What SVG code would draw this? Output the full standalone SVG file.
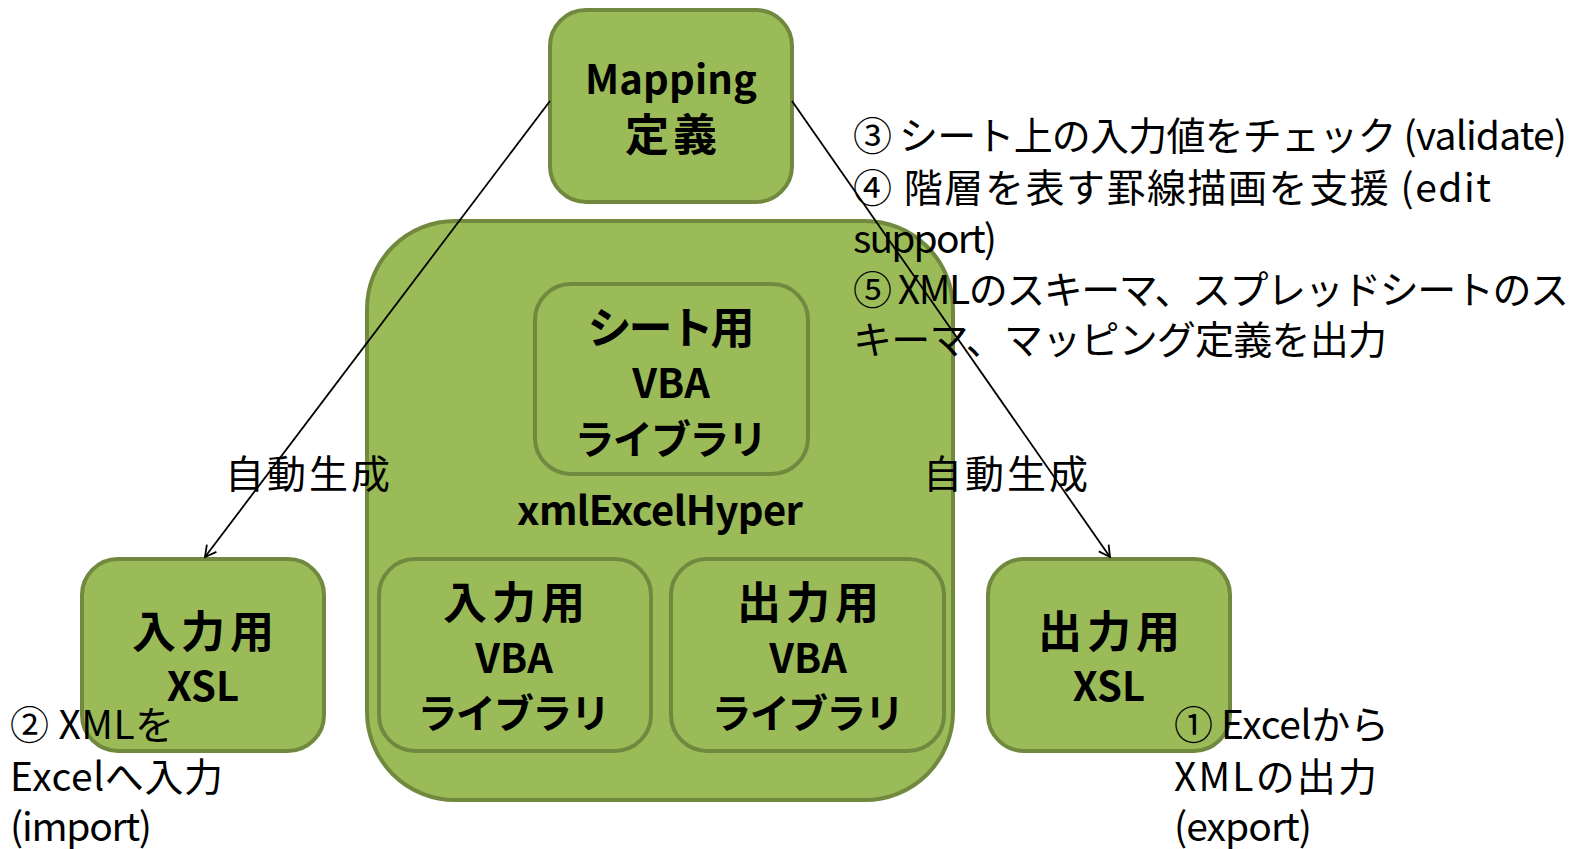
<svg xmlns="http://www.w3.org/2000/svg" width="1587" height="849" viewBox="0 0 1587 849">
<defs>
<style>
.box{fill:#9bbb59;stroke:#71893f;stroke-width:4}
.in{fill:#9bbb59;stroke:#71893f;stroke-width:4}
.b{font-family:"Noto Sans CJK JP","Noto Sans",sans-serif;font-weight:bold;font-size:40px;fill:#000;text-anchor:middle}
.k{font-size:44px}
.t{font-family:"Noto Sans CJK JP","Noto Sans",sans-serif;font-size:39px;fill:#000}
.c{stroke:#000;stroke-width:1.8;fill:none}
</style>
<marker id="ah" markerWidth="14" markerHeight="14" refX="12" refY="7" orient="auto" markerUnits="userSpaceOnUse">
<path d="M1,1 L12,7 L1,13" fill="none" stroke="#000" stroke-width="1.8"/>
</marker>
</defs>
<rect width="1587" height="849" fill="#fff"/>
<g id="mapping">
<rect class="box" x="550" y="10" width="242" height="192" rx="36"/>
<text class="b" x="671" y="94" textLength="172">Mapping</text>
<text class="b k" x="671" y="151" textLength="92">定義</text>
</g>
<g id="xmlExcelHyper">
<rect class="box" x="367" y="221" width="586" height="579" rx="88"/>
<text class="b" x="660" y="525" textLength="286">xmlExcelHyper</text>
</g>
<g id="sheetVBA">
<rect class="in" x="535" y="284" width="273" height="190" rx="36"/>
<text class="b k" x="671" y="344" textLength="167">シート用</text>
<text class="b" x="671" y="398">VBA</text>
<text class="b" x="671" y="454" textLength="193">ライブラリ</text>
</g>
<g id="inputVBA">
<rect class="in" x="379" y="559" width="272" height="192" rx="36"/>
<text class="b k" x="514" y="619" textLength="142">入力用</text>
<text class="b" x="514" y="673">VBA</text>
<text class="b" x="514" y="728" textLength="193">ライブラリ</text>
</g>
<g id="outputVBA">
<rect class="in" x="671" y="559" width="273" height="192" rx="36"/>
<text class="b k" x="808" y="619" textLength="142">出力用</text>
<text class="b" x="808" y="673">VBA</text>
<text class="b" x="808" y="728" textLength="193">ライブラリ</text>
</g>
<g id="inputXSL">
<rect class="box" x="82" y="559" width="242" height="192" rx="36"/>
<text class="b k" x="203" y="648" textLength="142">入力用</text>
<text class="b" x="203" y="701">XSL</text>
</g>
<g id="outputXSL">
<rect class="box" x="988" y="559" width="242" height="192" rx="36"/>
<text class="b k" x="1109" y="648" textLength="142">出力用</text>
<text class="b" x="1109" y="701">XSL</text>
</g>
<g id="connectors">
<line class="c" x1="550" y1="101" x2="205" y2="557" marker-end="url(#ah)"/>
<line class="c" x1="792" y1="101" x2="1110" y2="557" marker-end="url(#ah)"/>
</g>
<g id="labels">
<text class="t" x="225" y="488" textLength="165">自動生成</text>
<text class="t" x="923" y="488" textLength="165">自動生成</text>
<text class="t" x="853" y="150" textLength="714">③ シート上の入力値をチェック (validate)</text>
<text class="t" x="853" y="202" textLength="638">④ 階層を表す罫線描画を支援 (edit</text>
<text class="t" x="853" y="253" textLength="144">support)</text>
<text class="t" x="853" y="304" textLength="716">⑤ XMLのスキーマ、スプレッドシートのス</text>
<text class="t" x="853" y="354" textLength="534">キーマ、マッピング定義を出力</text>
<text class="t" x="10" y="739" textLength="164">② XMLを</text>
<text class="t" x="10" y="791" textLength="213">Excelへ入力</text>
<text class="t" x="10" y="841" textLength="142">(import)</text>
<text class="t" x="1174" y="739" textLength="215">① Excelから</text>
<text class="t" x="1174" y="791" textLength="203">XMLの出力</text>
<text class="t" x="1174" y="841" textLength="138">(export)</text>
</g>
</svg>
